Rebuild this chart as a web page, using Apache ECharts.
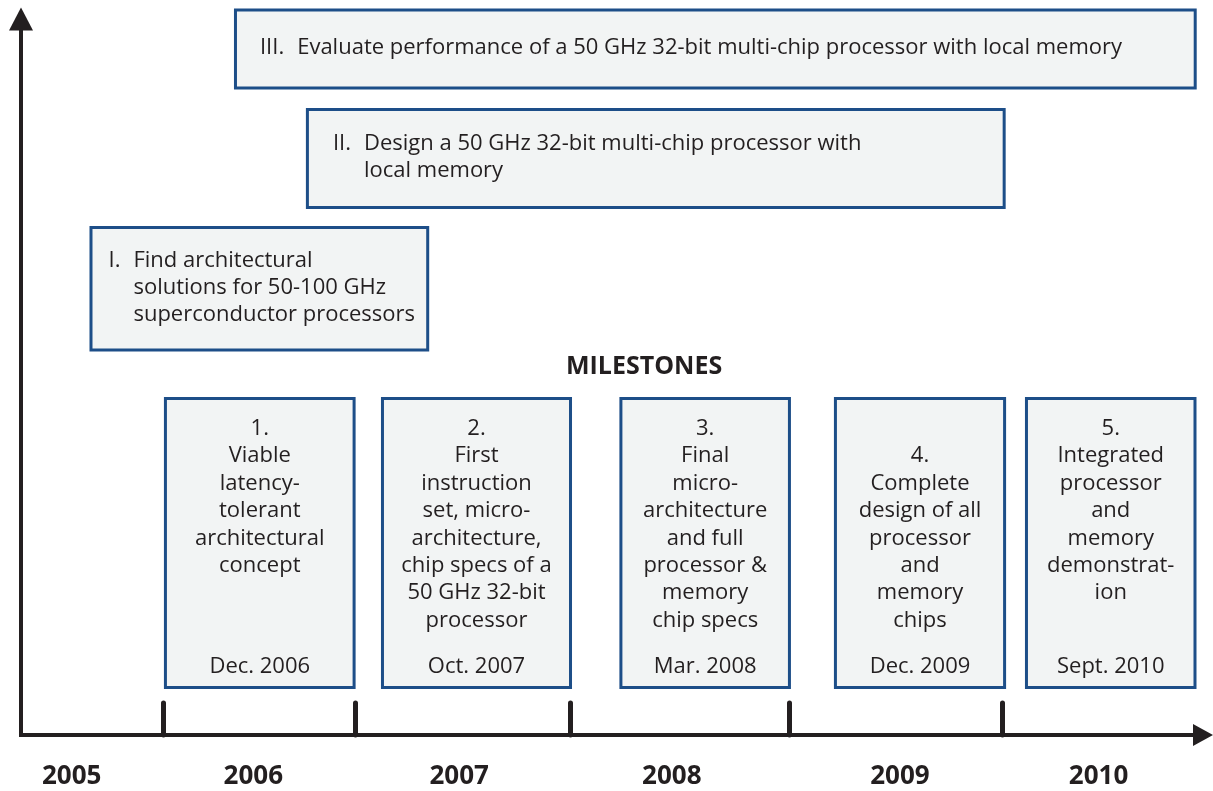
<!DOCTYPE html>
<html>
<head>
<meta charset="utf-8">
<script src="https://cdn.jsdelivr.net/npm/echarts@6/dist/echarts.min.js"></script>
<style>
  html, body { margin: 0; padding: 0; background: #ffffff; }
  #chart { width: 1213px; height: 791px; }
</style>
</head>
<body>
<div id="chart"></div>
<script>
// ---------------- DATA ----------------
// x values are in "years" along the timeline, y values on a 0-100 vertical scale
const yearLabels = ['2005', '2006', '2007', '2008', '2009', '2010'];
const yearLabelPos = [2005.563, 2006.429, 2007.411, 2008.425, 2009.513, 2010.460];
const yearTickPos = [2006.0, 2006.917, 2007.939, 2008.983, 2010.0];

const phaseNums = ['I.', 'II.', 'III.'];
const phaseTexts = [
  'Find architectural\nsolutions for 50-100 GHz\nsuperconductor processors',
  'Design a 50 GHz 32-bit multi-chip processor with\nlocal memory',
  'Evaluate performance of a 50 GHz 32-bit multi-chip processor with local memory'
];
const phaseStart = [2005.648, 2006.680, 2006.337];
const phaseEnd = [2007.268, 2010.017, 2010.928];
const phaseTop = [71.09, 87.57, 101.47];
const phaseBottom = [53.56, 73.46, 90.15];

const milestoneTitle = 'MILESTONES';
const milestoneNums = ['1.', '2.', '3.', '4.', '5.'];
const milestoneTexts = [
  'Viable\nlatency-\ntolerant\narchitectural\nconcept',
  'First\ninstruction\nset, micro-\narchitecture,\nchip specs of a\n50 GHz 32-bit\nprocessor',
  'Final\nmicro-\narchitecture\nand full\nprocessor &\nmemory\nchip specs',
  'Complete\ndesign of all\nprocessor\nand\nmemory\nchips',
  'Integrated\nprocessor\nand\nmemory\ndemonstrat-\nion'
];
const milestoneDates = ['Dec. 2006', 'Oct. 2007', 'Mar. 2008', 'Dec. 2009', 'Sept. 2010'];
const milestoneStart = [2006.003, 2007.038, 2008.175, 2009.198, 2010.109];
const milestoneEnd = [2006.917, 2007.949, 2008.993, 2010.019, 2010.927];
const milestoneTop = [47.21, 47.21, 47.21, 47.21, 47.21];
const milestoneBottom = [6.42, 6.42, 6.42, 6.42, 6.42];

// ---------------- STYLE ----------------
const INK = '#231f20';
const BOX_STROKE = '#1d4e88';
const BOX_FILL = '#f2f4f4';
const FONT = '"Open Sans", "Noto Sans", sans-serif';
const BODY_SIZE = 22;
const LINE_H = 27.4;
const BORDER = 3;
const numeralPad = [19, 27, 26];     // left padding of roman numeral per phase box
const numeralGap = 13;
const milestoneLineShift = [0, 0, 0, 1, 0]; // extra empty lines before text

const measureCtx = document.createElement('canvas').getContext('2d');
function textWidth(t) {
  measureCtx.font = BODY_SIZE + 'px ' + FONT;
  return measureCtx.measureText(t).width;
}

function boxRect(p0, p1) {
  return {
    x: p0[0] + BORDER / 2,
    y: p0[1] + BORDER / 2,
    width: p1[0] - p0[0] - BORDER,
    height: p1[1] - p0[1] - BORDER
  };
}

function textStyle(extra) {
  return Object.assign({
    fill: INK, fontSize: BODY_SIZE, fontFamily: FONT, lineHeight: LINE_H
  }, extra);
}

function renderPhase(params, api) {
  const i = params.dataIndex;
  const p0 = api.coord([phaseStart[i], phaseTop[i]]);
  const p1 = api.coord([phaseEnd[i], phaseBottom[i]]);
  const nLines = phaseTexts[i].split('\n').length;
  const cy = (p0[1] + p1[1]) / 2 - 1;
  const numX = p0[0] + numeralPad[i];
  const bodyX = numX + textWidth(phaseNums[i]) + numeralGap;
  return {
    type: 'group',
    children: [
      { type: 'rect', shape: boxRect(p0, p1),
        style: { fill: BOX_FILL, stroke: BOX_STROKE, lineWidth: BORDER } },
      { type: 'text', x: numX, y: cy - (nLines - 1) * LINE_H / 2,
        style: textStyle({ text: phaseNums[i], align: 'left', verticalAlign: 'middle' }) },
      { type: 'text', x: bodyX, y: cy,
        style: textStyle({ text: phaseTexts[i], align: 'left', verticalAlign: 'middle' }) }
    ]
  };
}

function renderMilestone(params, api) {
  const i = params.dataIndex;
  const p0 = api.coord([milestoneStart[i], milestoneTop[i]]);
  const p1 = api.coord([milestoneEnd[i], milestoneBottom[i]]);
  const cx = (p0[0] + p1[0]) / 2;
  return {
    type: 'group',
    children: [
      { type: 'rect', shape: boxRect(p0, p1),
        style: { fill: BOX_FILL, stroke: BOX_STROKE, lineWidth: BORDER } },
      { type: 'text', x: cx, y: p0[1] + 18 + milestoneLineShift[i] * LINE_H,
        style: textStyle({ text: milestoneNums[i] + '\n' + milestoneTexts[i], align: 'center', verticalAlign: 'top' }) },
      { type: 'text', x: cx, y: p1[1] - 22,
        style: textStyle({ text: milestoneDates[i], align: 'center', verticalAlign: 'middle' }) }
    ]
  };
}

const chart = echarts.init(document.getElementById('chart'), null, { renderer: 'canvas' });
chart.setOption({
  backgroundColor: '#ffffff',
  animation: false,
  title: {
    text: milestoneTitle,
    left: 561, top: 349,
    textStyle: { color: INK, fontSize: 25, fontWeight: 'bold', fontFamily: FONT }
  },
  grid: { left: 21, right: 10, top: 19, bottom: 56, containLabel: false, outerBoundsMode: 'none' },
  xAxis: {
    type: 'value',
    min: 2005.3214, max: 2010.958,
    splitLine: { show: false },
    axisLine: {
      show: true,
      symbol: ['none', 'triangle'],
      symbolSize: [22, 20],
      lineStyle: { color: INK, width: 4, cap: 'square' }
    },
    axisTick: {
      show: true, inside: true, length: 32,
      customValues: yearTickPos,
      lineStyle: { color: INK, width: 5, cap: 'round' }
    },
    axisLabel: {
      show: true,
      customValues: yearLabelPos,
      margin: 29,
      color: INK, fontSize: 26, fontWeight: 'bold', fontFamily: FONT,
      formatter: function (v) {
        let best = 0;
        for (let k = 1; k < yearLabelPos.length; k++) {
          if (Math.abs(yearLabelPos[k] - v) < Math.abs(yearLabelPos[best] - v)) best = k;
        }
        return yearLabels[best];
      }
    }
  },
  yAxis: {
    type: 'value',
    min: 0, max: 100,
    splitLine: { show: false },
    axisTick: { show: false },
    axisLabel: { show: false },
    axisLine: {
      show: true,
      symbol: ['none', 'triangle'],
      symbolSize: [24, 23],
      lineStyle: { color: INK, width: 4, cap: 'square' }
    }
  },
  series: [
    {
      type: 'custom',
      name: 'phases',
      clip: false,
      renderItem: renderPhase,
      data: phaseNums.map(function (_, i) { return [phaseStart[i], phaseTop[i], phaseEnd[i], phaseBottom[i]]; }),
      encode: { x: [0, 2], y: [1, 3] },
      z: 5
    },
    {
      type: 'custom',
      name: 'milestones',
      clip: false,
      renderItem: renderMilestone,
      data: milestoneNums.map(function (_, i) { return [milestoneStart[i], milestoneTop[i], milestoneEnd[i], milestoneBottom[i]]; }),
      encode: { x: [0, 2], y: [1, 3] },
      z: 5
    }
  ]
});
</script>
</body>
</html>
